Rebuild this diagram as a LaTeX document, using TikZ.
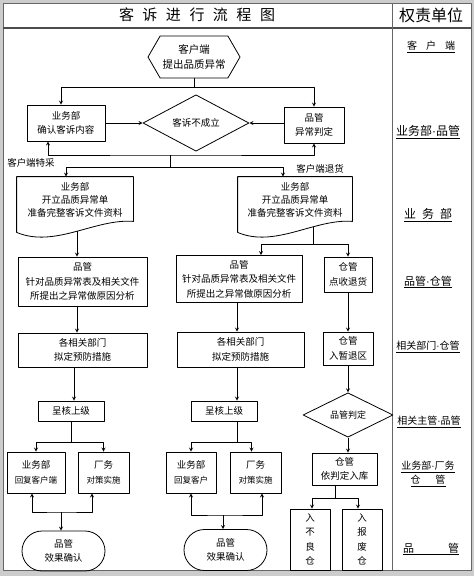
\documentclass[tikz,border=0pt]{standalone}
\usepackage{fontspec}
\setmainfont{Noto Sans CJK SC}
\newfontfamily\latdot{Liberation Sans}
\newcommand{\mdot}{{\latdot ·}}
\usetikzlibrary{shapes.geometric,shapes.misc,shapes.symbols,calc}

\begin{document}
\begin{tikzpicture}[x=1pt,y=-1pt, line width=0.8pt, line join=round, >=stealth,
  font=\fontsize{9.5}{14.5}\selectfont,
  box/.style={draw, align=center, inner sep=1pt},
  doc/.style={align=center, inner sep=0pt, minimum height=46, font=\fontsize{9.5}{13}\selectfont},
  dec/.style={draw, diamond, align=center, inner sep=0pt},
  term/.style={draw, rounded rectangle, align=center, inner sep=0pt, minimum width=83},
  duty/.style={font=\fontsize{10}{14}\selectfont}]
\useasboundingbox (0,0) rectangle (474,576);
\fill[gray!40] (0,0) rectangle (474,576);
\filldraw[fill=white, draw=black!60] (3,3) rectangle (471,570);
\draw[black!70, line width=1.2pt] (3,28) -- (471,28);
\draw[black!60] (392,3) -- (392,570);
\node (title) at (197,15) {\fontsize{15}{15}\selectfont 客\hspace{8.5pt}诉\hspace{8.5pt}进\hspace{8.5pt}行\hspace{8.5pt}流\hspace{8.5pt}程\hspace{8.5pt}图};
\node (qzdw) at (431,15) {\fontsize{16}{16}\selectfont 权责单位};

\node[draw, signal, signal to=west and east, signal pointer angle=120, minimum width=92, minimum height=42, align=center, inner sep=0pt, font=\fontsize{10.5}{15}\selectfont] (kh) at (194,57) {客户端\\提出品质异常};
\node[box, minimum width=78, minimum height=36] (ywqr) at (66,123) {业务部\\确认客诉内容};
\node[dec, minimum width=106, minimum height=48] (bcl) at (196,123) {客诉不成立};
\node[box, minimum width=60, minimum height=36] (pgpd) at (314,125) {品管\\异常判定};
\node (tc) at (31,163) {客户端特采};
\node (th) at (320,169) {客户端退货};

\node[doc, minimum width=116] (docA) at (75,200) {业务部\\开立品质异常单\\准备完整客诉文件资料};
\node[doc, minimum width=114] (docB) at (295,200) {业务部\\开立品质异常单\\准备完整客诉文件资料};
\draw ($(docA.south west)+(0,9)$) -- (docA.north west) -- (docA.north east) -- ($(docA.south east)+(0,-2)$)
  .. controls ($(docA.south)+(20,-5)$) and ($(docA.south)+(-20,25)$) .. cycle;
\draw ($(docB.south west)+(0,9)$) -- (docB.north west) -- (docB.north east) -- ($(docB.south east)+(0,-2)$)
  .. controls ($(docB.south)+(20,-5)$) and ($(docB.south)+(-20,25)$) .. cycle;

\node[box, minimum width=129, minimum height=49] (fxA) at (82.5,281.5) {品管\\针对品质异常表及相关文件\\所提出之异常做原因分析};
\node[box, minimum width=126, minimum height=47] (fxB) at (239,279) {品管\\针对品质异常表及相关文件\\所提出之异常做原因分析};
\node[box, minimum width=48, minimum height=35] (cgA) at (348,274.5) {仓管\\点收退货};
\node[box, minimum width=129, minimum height=34] (yfA) at (82.5,350) {各相关部门\\拟定预防措施};
\node[box, minimum width=127, minimum height=35] (yfB) at (240.5,349.5) {各相关部门\\拟定预防措施};
\node[box, minimum width=50, minimum height=33] (cgB) at (348,348.5) {仓管\\入暂退区};
\node[box, minimum width=66, minimum height=20] (chA) at (71,411) {呈核上级};
\node[box, minimum width=66, minimum height=20] (chB) at (224,411) {呈核上级};
\node[dec, minimum width=90, minimum height=44, font=\fontsize{9}{12}\selectfont] (pgB) at (348,415) {品管判定};
\node[box, minimum width=58, minimum height=41] (hfA) at (36,472.5) {业务部\\{\fontsize{8.5}{12}\selectfont 回复客户端}};
\node[box, minimum width=51, minimum height=41] (cwA) at (103.5,472.5) {厂务\\{\fontsize{8.5}{12}\selectfont 对策实施}};
\node[box, minimum width=50, minimum height=41] (hfB) at (191,472.5) {业务部\\{\fontsize{8.5}{12}\selectfont 回复客户}};
\node[box, minimum width=51, minimum height=41] (cwB) at (255.5,472.5) {厂务\\{\fontsize{8.5}{12}\selectfont 对策实施}};
\node[box, minimum width=65, minimum height=32] (cgC) at (344.5,469) {仓管\\依判定入库};
\node[box, minimum width=40, minimum height=61] (blc) at (310,539.5) {入\\不\\良\\仓};
\node[box, minimum width=40, minimum height=61] (bfc) at (362,539.5) {入\\报\\废\\仓};
\node[term, minimum height=40] (qrA) at (63.5,551) {品管\\效果确认};
\node[term, minimum height=41] (qrB) at (225.5,550) {品管\\效果确认};

\draw (kh.south) -- ++(0,9) coordinate (a1);
\draw[->] (a1) -| ([xshift=-5pt]ywqr.north);
\draw[->] (a1) -| (pgpd.north);
\draw[->] (ywqr) -- (bcl);
\draw[->] (pgpd.west |- bcl) -- (bcl.east);
\coordinate (a2) at (170,155);
\coordinate (a3) at (170,167);
\draw[<->] ([xshift=-18pt]ywqr.south) |- (a2) -| (pgpd.south);
\draw (a2) -- (a3);
\draw[->] (a3) -| ([xshift=-9pt]docA.north);
\draw[->] (a3) -| ([xshift=-12pt]docB.north);
\draw[->] ([xshift=2pt,yshift=-8pt]docA.south) -- ([xshift=2pt]docA.south |- fxA.north);
\draw ([xshift=18pt,yshift=-4pt]docB.south) -- ++(0,17) coordinate (b1);
\draw[<->] ([xshift=22pt]fxB.north) |- (b1) -| (cgA.north);
\draw[->] ([xshift=-5.5pt]fxA.south) -- ([xshift=-5.5pt]yfA.north);
\draw[->] ([xshift=-2pt]fxB.south) -- ([xshift=-2pt]fxB.south |- yfB.north);
\draw[->] (cgA) -- (cgB);
\draw[->] ([xshift=-8.5pt]yfA.south) -- ([xshift=-8.5pt]yfA.south |- chA.north);
\draw[->] ([xshift=-3.5pt]yfB.south) -- ([xshift=-3.5pt]yfB.south |- chB.north);
\draw[->] (cgB) -- (pgB);
\draw (chA.south) -- ++(0,21) coordinate (c1);
\draw[->] (c1) -| (hfA.north);
\draw[->] (c1) -| (cwA.north);
\draw ([xshift=13pt]chB.south) -- ++(0,21) coordinate (c2);
\draw[->] (c2) -| (hfB.north);
\draw[->] (c2) -| ([xshift=-4pt]cwB.north);
\draw[->] (pgB.south) -- (pgB.south |- cgC.north);
\draw ([xshift=-9.5pt]cgC.south) -- ++(0,13) coordinate (c3);
\draw[->] (c3) -| ([xshift=2pt]blc.north);
\draw[->] (c3) -| ([xshift=-4pt]bfc.north);
\coordinate (d1) at (61,512);
\draw[<->] ([xshift=-4pt]hfA.south) |- (d1) -| ([xshift=-11.5pt]cwA.south);
\draw[->] (d1) -- (d1 |- qrA.north);
\coordinate (d2) at (223,515);
\draw[<->] (hfB.south) |- (d2) -| ([xshift=6.5pt]cwB.south);
\draw[->] (d2) -- (d2 |- qrB.north);

\node[duty] (r1) at (431,47) {\underline{客\hspace{9pt}户\hspace{9pt}端}};
\node[duty, font=\fontsize{12}{14}\selectfont] (r2) at (428,132) {\underline{业务部\mdot 品管}};
\node[duty, font=\fontsize{12}{14}\selectfont] (r3) at (428,215) {\underline{业\hspace{6pt}务\hspace{6pt}部}};
\node[duty, font=\fontsize{11}{14}\selectfont] (r4) at (428,282) {\underline{品管\mdot 仓管}};
\node[duty] (r5) at (428,347) {\underline{相关部门\mdot 仓管}};
\node[duty] (r6) at (429,422) {\underline{相关主管\mdot 品管}};
\node[duty, align=center] (r7) at (428,474) {\underline{业务部\mdot 厂务}\\\underline{仓\hspace{15pt}管}};
\node[duty, font=\fontsize{11}{14}\selectfont] (r8) at (431,549) {\underline{\makebox[56pt][s]{品\hfill 管}}};
\end{tikzpicture}
\end{document}
